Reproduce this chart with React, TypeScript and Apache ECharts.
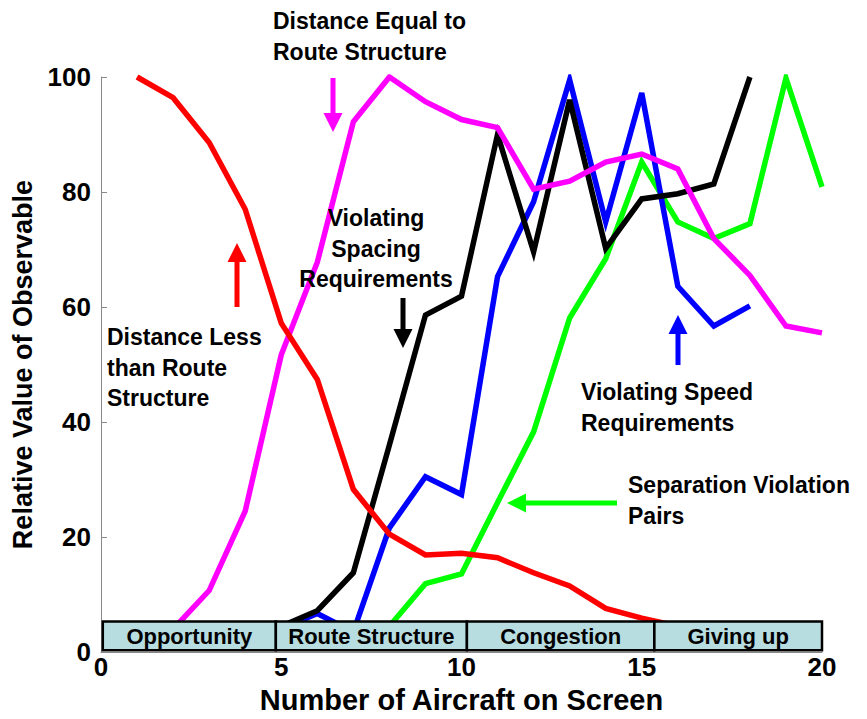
import React, { useEffect, useRef } from "react";
import * as echarts from "echarts";

// ---- data ----
const redX = [1, 2, 3, 4, 5, 6, 7, 8, 9, 10, 11, 12, 13, 14, 15, 16];
const redY = [100, 96.4, 88.6, 77, 57.2, 47.4, 28.3, 20.5, 16.9, 17.2, 16.4, 13.8, 11.5, 7.6, 5.9, 4.5];

const magentaX = [2, 3, 4, 5, 6, 7, 8, 9, 10, 11, 12, 13, 14, 15, 16, 17, 18, 19, 20];
const magentaY = [4, 10.7, 24.5, 51.7, 67.8, 92.2, 100, 95.7, 92.6, 91.2, 80.5, 81.9, 85.2, 86.6, 84, 71.9, 65.5, 56.7, 55.5];

const blackX = [5, 6, 7, 8, 9, 10, 11, 12, 13, 14, 15, 16, 17, 18];
const blackY = [4.5, 7.2, 13.8, 36, 58.6, 61.9, 90, 69.6, 96, 70.2, 78.8, 79.7, 81.4, 100];

const blueX = [5, 6, 7, 8, 9, 10, 11, 12, 13, 14, 15, 16, 17, 18];
const blueY = [4, 6.7, 3.5, 21.6, 30.5, 27.4, 65.3, 78.3, 99.5, 74.8, 97.2, 63.6, 56.7, 60.2];

const greenX = [8, 9, 10, 11, 12, 13, 14, 15, 16, 17, 18, 19, 20];
const greenY = [4.5, 11.9, 13.6, 26, 38.3, 58.1, 68.4, 85.2, 74.8, 71.9, 74.5, 99.8, 80.9];

const phaseNames = ["Opportunity", "Route Structure", "Congestion", "Giving up"];
const phaseBounds = [0.05, 4.85, 10.15, 15.35, 20];
const phaseBand = [0.3, 5.3];

const xTicks = [0, 5, 10, 15, 20];
const yTicks = [0, 20, 40, 60, 80, 100];

const FONT = "'Liberation Sans', Arial, Helvetica, sans-serif";

function pairs(xs: number[], ys: number[]) {
  return xs.map((x, i) => [x, ys[i]]);
}

function arrowPoints(x1: number, y1: number, x2: number, y2: number, w = 5, hw = 19, hl = 19) {
  const dx = x2 - x1, dy = y2 - y1;
  const len = Math.hypot(dx, dy);
  const ux = dx / len, uy = dy / len;
  const px = -uy, py = ux;
  const bx = x2 - ux * hl, by = y2 - uy * hl;
  return [
    [x1 + px * w / 2, y1 + py * w / 2],
    [bx + px * w / 2, by + py * w / 2],
    [bx + px * hw / 2, by + py * hw / 2],
    [x2, y2],
    [bx - px * hw / 2, by - py * hw / 2],
    [bx - px * w / 2, by - py * w / 2],
    [x1 - px * w / 2, y1 - py * w / 2],
  ];
}

function arrow(x1: number, y1: number, x2: number, y2: number, color: string) {
  return {
    type: "polygon",
    z: 100,
    shape: { points: arrowPoints(x1, y1, x2, y2) },
    style: { fill: color },
  };
}

function label(text: string, x: number, y: number, align: string = "left") {
  return {
    type: "text",
    z: 100,
    x,
    y,
    style: {
      text,
      font: `bold 23px ${FONT}`,
      fill: "#000",
      textAlign: align,
      textVerticalAlign: "top",
      lineHeight: 30.5,
    },
  };
}

export default function App() {
  const ref = useRef<HTMLDivElement>(null);
  useEffect(() => {
    if (!ref.current) return;
    document.body.style.margin = "0";
    const chart = echarts.init(ref.current, null, { renderer: "svg" });
    const lineSeries = (name: string, xs: number[], ys: number[], color: string) => ({
      name,
      type: "line",
      data: pairs(xs, ys),
      showSymbol: false,
      symbol: "none",
      lineStyle: { color, width: 5.5, join: "miter" },
      itemStyle: { color },
      z: 3,
    });
    const phaseData = phaseNames.map((n, i) => [phaseBounds[i], phaseBounds[i + 1], phaseBand[0], phaseBand[1]]);
    chart.setOption({
      animation: false,
      backgroundColor: "#fff",
      grid: { left: 101, right: 45, top: 77, bottom: 61 },
      xAxis: {
        type: "value",
        min: 0,
        max: 20,
        interval: 5,
        name: "Number of Aircraft on Screen",
        nameLocation: "middle",
        nameGap: 28,
        nameTextStyle: { fontFamily: FONT, fontWeight: "bold", fontSize: 29, color: "#000" },
        axisLine: { show: true, lineStyle: { color: "#888", width: 1 } },
        axisTick: { show: false },
        splitLine: { show: false },
        axisLabel: {
          fontFamily: FONT,
          fontWeight: "bold",
          fontSize: 26,
          color: "#000",
          margin: 2,
          formatter: (v: number) => (xTicks.includes(v) ? String(v) : ""),
        },
      },
      yAxis: {
        type: "value",
        min: 0,
        max: 100,
        interval: 20,
        name: "Relative Value of Observable",
        nameLocation: "middle",
        nameGap: 63,
        nameTextStyle: { fontFamily: FONT, fontWeight: "bold", fontSize: 27, color: "#000" },
        axisLine: { show: true, lineStyle: { color: "#888", width: 1 } },
        axisTick: { show: true, inside: true, length: 6, lineStyle: { color: "#888" } },
        splitLine: { show: false },
        axisLabel: {
          fontFamily: FONT,
          fontWeight: "bold",
          fontSize: 26,
          color: "#000",
          margin: 10,
          formatter: (v: number) => (yTicks.includes(v) ? String(v) : ""),
        },
      },
      series: [
        lineSeries("Separation Violation Pairs", greenX, greenY, "#00ff00"),
        lineSeries("Violating Speed Requirements", blueX, blueY, "#0000ff"),
        lineSeries("Violating Spacing Requirements", blackX, blackY, "#000000"),
        lineSeries("Distance Equal to Route Structure", magentaX, magentaY, "#ff00ff"),
        lineSeries("Distance Less than Route Structure", redX, redY, "#ff0000"),
        {
          name: "phases",
          type: "custom",
          z: 20,
          clip: false,
          silent: true,
          encode: { x: [0, 1], y: [2, 3] },
          data: phaseData,
          renderItem: (params: any, api: any) => {
            const p0 = api.coord([api.value(0), api.value(3)]);
            const p1 = api.coord([api.value(1), api.value(2)]);
            return {
              type: "group",
              children: [
                {
                  type: "rect",
                  shape: { x: p0[0], y: p0[1], width: p1[0] - p0[0], height: p1[1] - p0[1] },
                  style: { fill: "#b7dde1", stroke: "#000", lineWidth: 2.5 },
                },
                {
                  type: "text",
                  style: {
                    text: phaseNames[params.dataIndex],
                    x: (p0[0] + p1[0]) / 2,
                    y: (p0[1] + p1[1]) / 2 + 1,
                    align: "center",
                    verticalAlign: "middle",
                    font: `bold 22px ${FONT}`,
                    fill: "#000",
                  },
                },
              ],
            };
          },
        },
      ],
      graphic: [
        label("Distance Equal to\nRoute Structure", 273, 6),
        arrow(333, 78, 333, 132, "#ff00ff"),
        label("Distance Less\nthan Route\nStructure", 107, 322),
        arrow(237, 307, 237, 243, "#ff0000"),
        label("Violating\nSpacing\nRequirements", 376, 203, "center"),
        arrow(403, 298, 403, 348, "#000000"),
        label("Violating Speed\nRequirements", 581, 377),
        arrow(678, 365, 678, 315, "#0000ff"),
        label("Separation Violation\nPairs", 628, 470),
        arrow(617, 503, 507, 503, "#00ff00"),
      ],
    });
    return () => chart.dispose();
  }, []);
  return <div ref={ref} style={{ width: 867, height: 719 }} />;
}
